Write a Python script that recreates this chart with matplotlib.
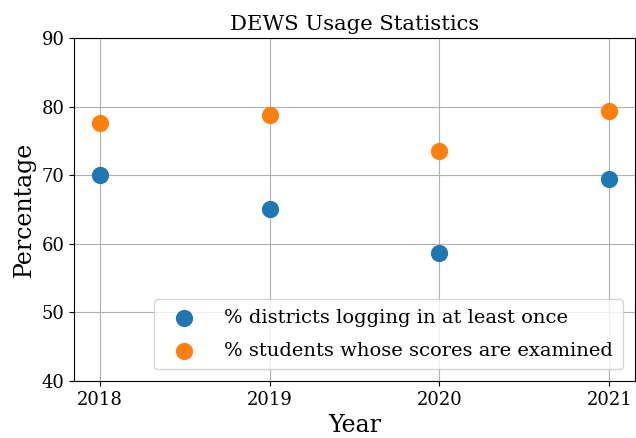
import matplotlib
matplotlib.use("Agg")
from matplotlib import pyplot as plt

plt.rcParams['font.family'] = ['DejaVu Serif']

years = [2018, 2019, 2020, 2021]
pct_districts = [70.0, 65.1, 58.7, 69.5]
pct_students = [77.6, 78.8, 73.5, 79.4]

fig, ax = plt.subplots(figsize=(6.36, 4.38), dpi=100)
fig.subplots_adjust(left=0.117, right=0.998, top=0.913, bottom=0.13)

ax.scatter(years, pct_districts, s=130, color='#1f77b4', label='% districts logging in at least once', zorder=3)
ax.scatter(years, pct_students, s=130, color='#ff7f0e', label='% students whose scores are examined', zorder=3)

ax.set_ylim(40, 90)
ax.set_xticks(years)
ax.tick_params(labelsize=13)
ax.grid(True, color='#b0b0b0', linewidth=0.8)
ax.set_axisbelow(True)

ax.set_title('DEWS Usage Statistics', fontsize=15.2)
ax.set_xlabel('Year', fontsize=17)
ax.set_ylabel('Percentage', fontsize=17)
ax.legend(loc='lower right', fontsize=14, handletextpad=1.1, borderpad=0.5,
          labelspacing=0.75, borderaxespad=0.6)

plt.savefig('out.png')
